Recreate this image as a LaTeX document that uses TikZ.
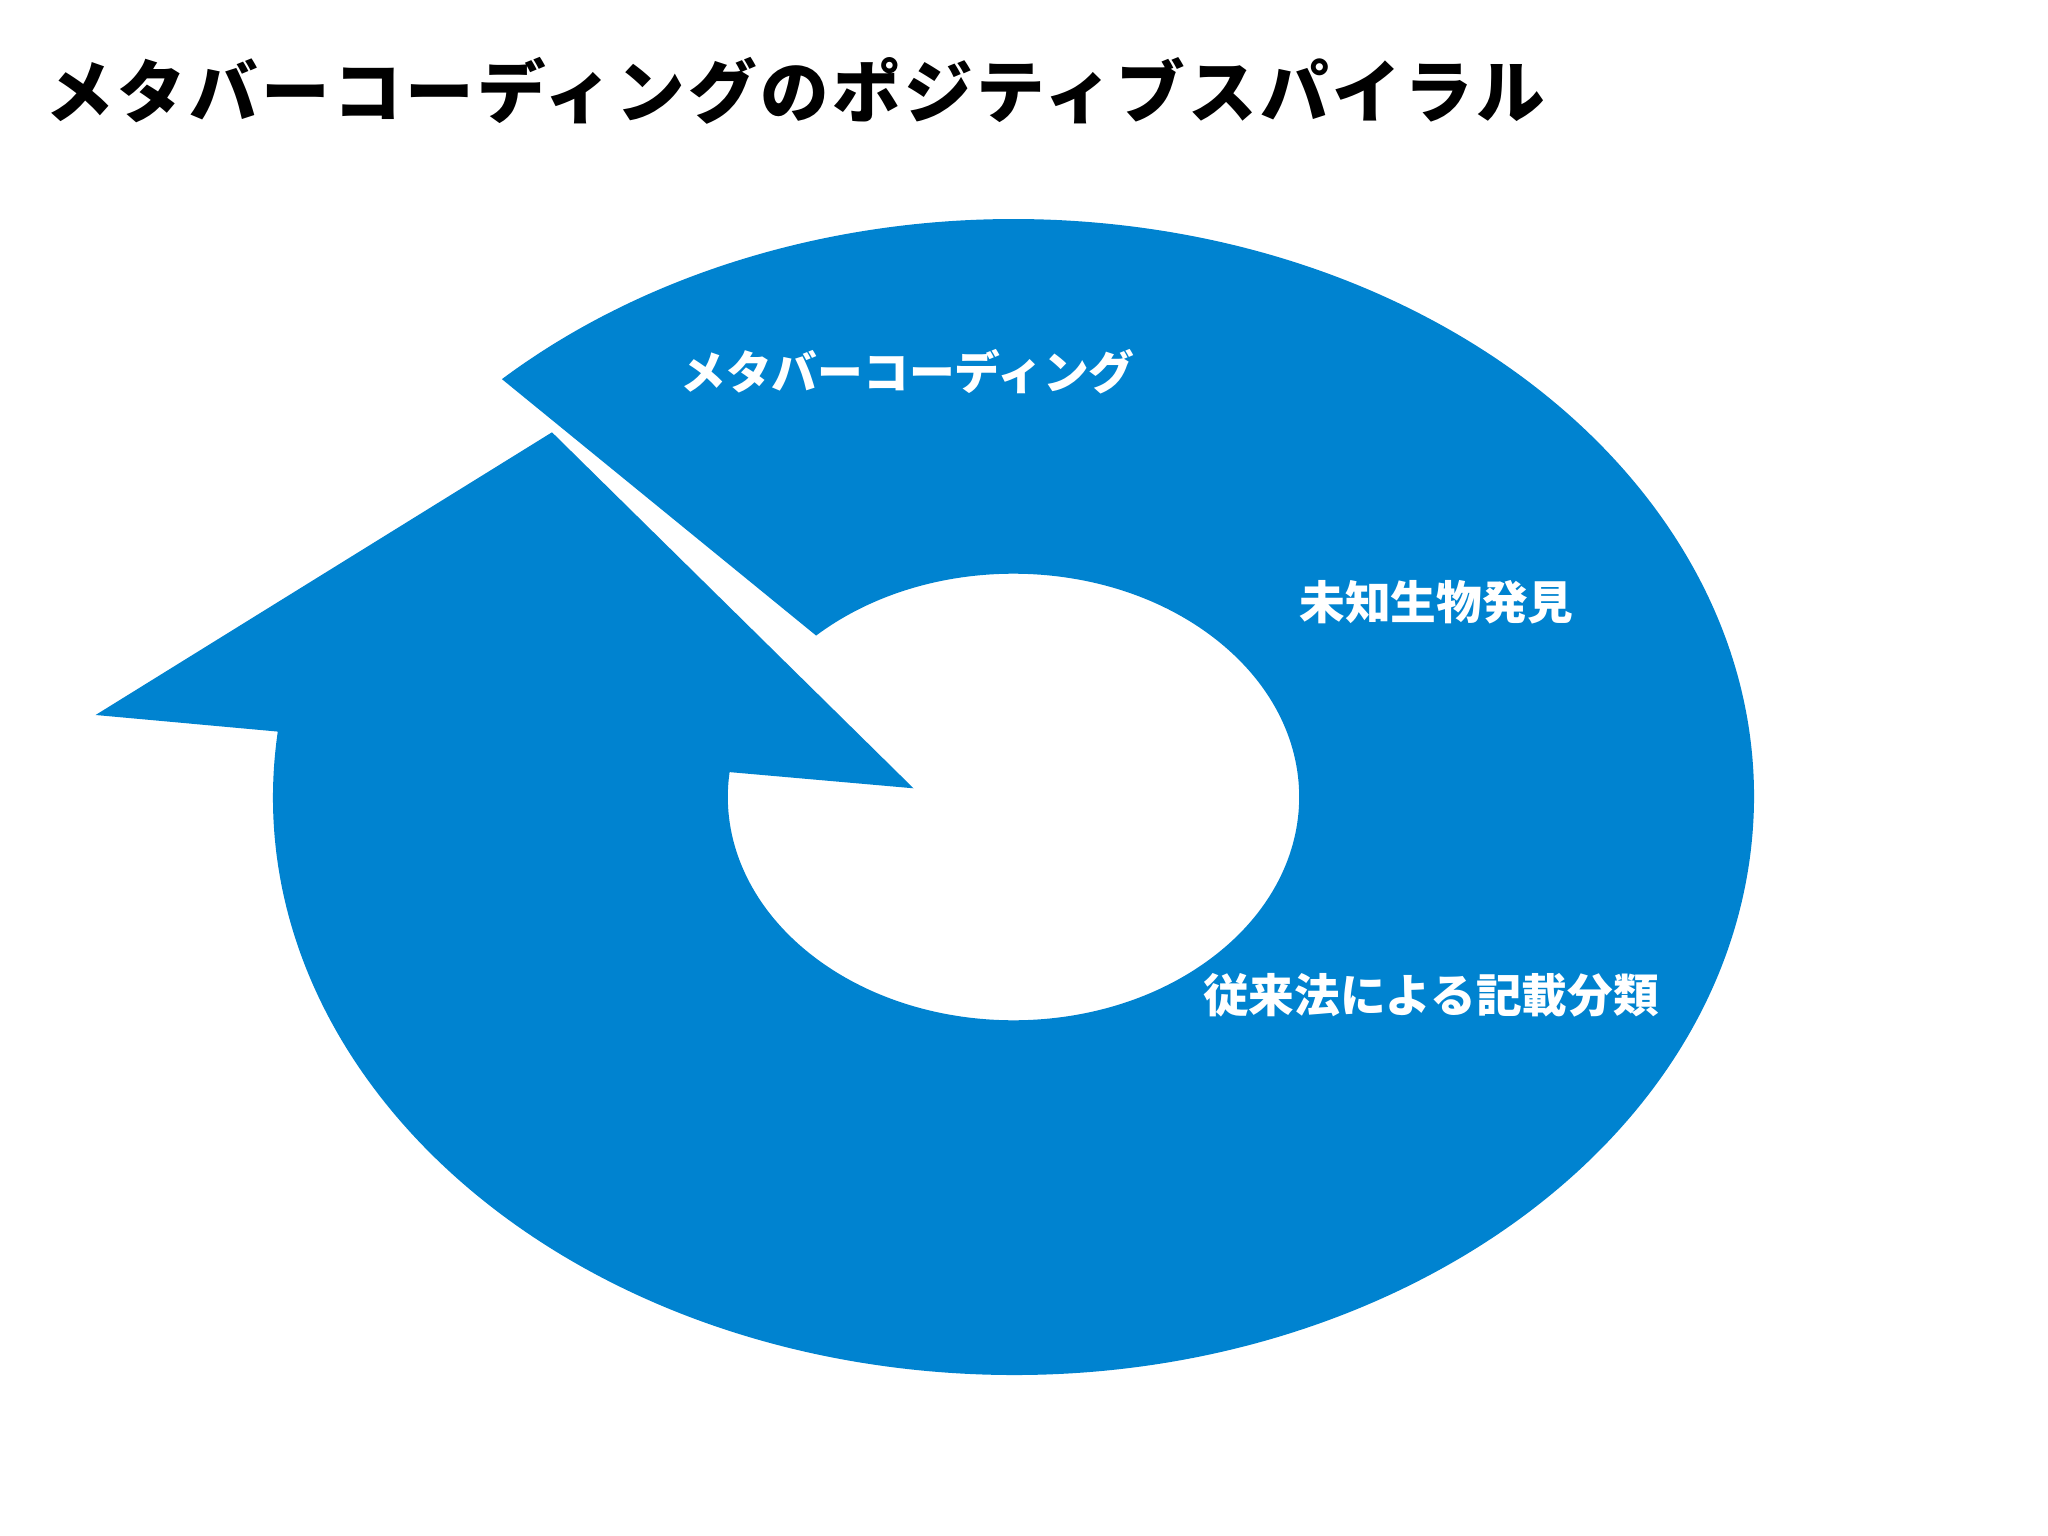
\documentclass[tikz,border=0pt]{standalone}
\usepackage{fontspec}
\setmainfont{Noto Sans CJK JP}
\newfontfamily\titlefont{Noto Sans CJK JP}[LetterSpace=5]
\usetikzlibrary{calc}
\definecolor{spiralblue}{HTML}{0083D0}
\tikzset{
  stagelabel/.style={text=white,font=\bfseries\fontsize{13}{15}\selectfont,inner sep=0pt},
  titlelabel/.style={text=black,font=\titlefont\bfseries\fontsize{19.5}{22}\selectfont,inner sep=0pt}
}
\begin{document}
\begin{tikzpicture}[x=0.01cm,y=0.01cm]
  \useasboundingbox[fill=white] (0,0) rectangle (2048,1535);
  \coordinate (c) at (1013.5,738);
  \coordinate (wingR) at (913.5,746.7);
  \coordinate (tip) at (552,1102.7);
  \coordinate (wingL) at (95.6,820);
  \fill[spiralblue] ($(c)+(133.7:740.5 and 578)$) coordinate (cutOut)
    -- ($(c)+(133.7:285.7 and 223.3)$) coordinate (cutIn)
    arc[start angle=133.7,end angle=-186.4,x radius=285.7,y radius=223.3] coordinate (baseIn)
    -- (wingR) -- (tip) -- (wingL)
    -- ($(c)+(-186.5:740.5 and 578)$) coordinate (baseOut)
    arc[start angle=-186.5,end angle=133.7,x radius=740.5,y radius=578] -- cycle;
  \node[titlelabel] (title) at (795.5,1444) {メタバーコーディングのポジティブスパイラル};
  \node[stagelabel] (metabar) at (907.5,1163) {メタバーコーディング};
  \node[stagelabel] (unknown) at (1436.5,933) {未知生物発見};
  \node[stagelabel] (classic) at (1431,540) {従来法による記載分類};
\end{tikzpicture}
\end{document}
